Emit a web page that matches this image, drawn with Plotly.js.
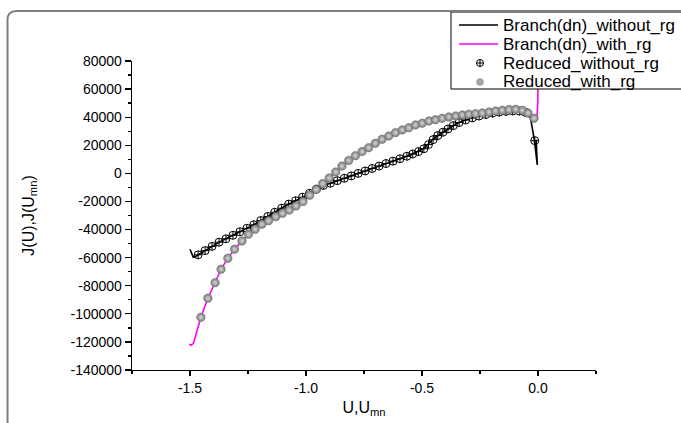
<!DOCTYPE html>
<html>
<head>
<meta charset="utf-8">
<script src="https://cdn.plot.ly/plotly-3.0.1.min.js"></script>
<style>html,body{margin:0;padding:0;background:#fff;}#chart{width:681px;height:423px;}</style>
</head>
<body>
<div id="chart"></div>
<script>
// Branch(dn)_without_rg (black line)
var branchNoRgX = [-1.500, -1.486, -1.478, -1.442, -1.370, -1.298, -1.226, -1.154, -1.082, -1.010, -0.938, -0.895, -0.809, -0.723, -0.636, -0.550, -0.492, -0.449, -0.406, -0.348, -0.291, -0.204, -0.118, -0.060, -0.032, -0.017, -0.003, -0.008];
var branchNoRgY = [-54000, -59700, -59300, -55700, -48600, -42700, -36700, -29600, -22500, -16600, -9500, -7000, -2000, 3000, 8000, 13100, 17900, 25000, 29700, 35700, 39200, 42800, 44400, 43900, 39200, 25000, 6000, 24000];

// Branch(dn)_with_rg (magenta line)
var branchRgX = [-1.503, -1.495, -1.485, -1.471, -1.453, -1.423, -1.392, -1.366, -1.337, -1.308, -1.276, -1.248, -1.219, -1.190, -1.130, -1.072, -1.013, -0.956, -0.900, -0.845, -0.787, -0.730, -0.672, -0.614, -0.557, -0.499, -0.442, -0.384, -0.326, -0.269, -0.211, -0.154, -0.096, -0.067, -0.043, -0.017, -0.004, -0.001, 0.000];
var branchRgY = [-121500, -122400, -121000, -112700, -102500, -88900, -77800, -68300, -60400, -54000, -48100, -43400, -39800, -36200, -30800, -26100, -20100, -11500, -3300, 5200, 12600, 18300, 24300, 29000, 32500, 35700, 38200, 40200, 41600, 42500, 43700, 44900, 45600, 44900, 43000, 39200, 41000, 50000, 62000];

// Reduced_without_rg (crossed open circles)
var reducedNoRgX = [-1.465, -1.435, -1.405, -1.375, -1.345, -1.315, -1.285, -1.255, -1.225, -1.195, -1.165, -1.135, -1.105, -1.075, -1.045, -1.015, -0.985, -0.955, -0.925, -0.895, -0.865, -0.835, -0.805, -0.775, -0.745, -0.715, -0.685, -0.655, -0.625, -0.595, -0.565, -0.540, -0.515, -0.492, -0.472, -0.452, -0.432, -0.410, -0.388, -0.365, -0.340, -0.312, -0.283, -0.254, -0.225, -0.196, -0.167, -0.138, -0.109, -0.080, -0.055, -0.014];
var reducedNoRgY = [-58000, -55000, -52000, -49000, -46600, -44100, -41600, -39100, -36600, -33600, -30700, -27700, -24800, -21900, -19500, -17000, -14200, -11200, -8600, -7000, -5200, -3500, -1800, 0, 1700, 3500, 5200, 7000, 8700, 10400, 12200, 13800, 15500, 17500, 20500, 24000, 26900, 29300, 31600, 34000, 36200, 38000, 39500, 40800, 41900, 42900, 43600, 44100, 44400, 44300, 43500, 23300];

// Reduced_with_rg (grey balls)
var reducedRgX = [-1.453, -1.423, -1.392, -1.366, -1.337, -1.308, -1.276, -1.248, -1.219, -1.190, -1.161, -1.130, -1.101, -1.072, -1.043, -1.013, -0.984, -0.956, -0.928, -0.900, -0.872, -0.845, -0.816, -0.787, -0.758, -0.730, -0.701, -0.672, -0.643, -0.614, -0.585, -0.557, -0.528, -0.499, -0.470, -0.442, -0.413, -0.384, -0.355, -0.326, -0.298, -0.269, -0.240, -0.211, -0.183, -0.154, -0.125, -0.096, -0.067, -0.043, -0.017];
var reducedRgY = [-102500, -88900, -77800, -68300, -60400, -54000, -48100, -43400, -39800, -36200, -33700, -30800, -28400, -26100, -23200, -20100, -15500, -11500, -7300, -3300, 1000, 5200, 9200, 12600, 15500, 18300, 21400, 24300, 26600, 29000, 30900, 32500, 34500, 35700, 37300, 38200, 39200, 40200, 40900, 41600, 42100, 42500, 43000, 43700, 44400, 44900, 45400, 45600, 44900, 43000, 39200];

var seriesNames = ['Branch(dn)_without_rg', 'Branch(dn)_with_rg', 'Reduced_without_rg', 'Reduced_with_rg'];

var xTickVals = [-1.5, -1.0, -0.5, 0.0];
var xTickText = ['-1.5', '-1.0', '-0.5', '0.0'];
var yTickVals = [80000, 60000, 40000, 20000, 0, -20000, -40000, -60000, -80000, -100000, -120000, -140000];
var yTickText = ['80000', '60000', '40000', '20000', '0', '-20000', '-40000', '-60000', '-80000', '-100000', '-120000', '-140000'];

var FONT = 'Liberation Sans, Arial, sans-serif';
var BLACK = '#000000', MAGENTA = '#ff00ff', BALL = '#7a7a7a', BALL_HI = '#d8d8d8';

var traces = [
  {x: branchNoRgX, y: branchNoRgY, mode: 'lines', name: seriesNames[0], showlegend: false,
   line: {color: BLACK, width: 1.6}},
  {x: branchRgX, y: branchRgY, mode: 'lines', name: seriesNames[1], showlegend: false,
   line: {color: MAGENTA, width: 1.6}},
  {x: reducedNoRgX, y: reducedNoRgY, mode: 'markers', name: seriesNames[2], showlegend: false,
   marker: {symbol: 'circle-cross-open', size: 8, color: BLACK, line: {width: 1, color: BLACK}}},
  {x: reducedRgX, y: reducedRgY, mode: 'markers', name: seriesNames[3], showlegend: false,
   marker: {symbol: 'circle', size: 8.5, color: BALL,
            gradient: {type: 'radial', color: BALL_HI},
            line: {width: 0.5, color: '#6a6a6a'}}}
];

var PL = 132, PR = 596, PT = 61, PB = 370;
function px(v) { return (v - PL) / (PR - PL); }
function py(v) { return (PB - v) / (PB - PT); }

var framePath = 'M ' + px(7.5) + ',' + py(440) +
  ' L ' + px(7.5) + ',' + py(20) +
  ' Q ' + px(7.5) + ',' + py(11) + ' ' + px(16.5) + ',' + py(11) +
  ' L ' + px(700) + ',' + py(11);

// legend geometry (pixels)
var LG = {left: 451, top: 12, bottom: 89, sx0: 459, sx1: 498, mx: 480, tx: 501, rows: [25, 44, 63, 82]};

var shapes = [
  {type: 'rect', xref: 'paper', yref: 'paper', x0: px(LG.left), x1: px(720), y0: py(LG.bottom), y1: py(LG.top),
   line: {color: BLACK, width: 1}, fillcolor: '#ffffff', layer: 'above'},
  {type: 'line', xref: 'paper', yref: 'paper', x0: px(LG.sx0), x1: px(LG.sx1), y0: py(LG.rows[0]), y1: py(LG.rows[0]),
   line: {color: BLACK, width: 1.6}, layer: 'above'},
  {type: 'line', xref: 'paper', yref: 'paper', x0: px(LG.sx0), x1: px(LG.sx1), y0: py(LG.rows[1]), y1: py(LG.rows[1]),
   line: {color: MAGENTA, width: 1.6}, layer: 'above'},
  {type: 'circle', xref: 'paper', yref: 'paper', x0: px(LG.mx - 3.5), x1: px(LG.mx + 3.5), y0: py(LG.rows[2] + 3.5), y1: py(LG.rows[2] - 3.5),
   line: {color: BLACK, width: 1}, layer: 'above'},
  {type: 'line', xref: 'paper', yref: 'paper', x0: px(LG.mx - 3.5), x1: px(LG.mx + 3.5), y0: py(LG.rows[2]), y1: py(LG.rows[2]),
   line: {color: BLACK, width: 1}, layer: 'above'},
  {type: 'line', xref: 'paper', yref: 'paper', x0: px(LG.mx), x1: px(LG.mx), y0: py(LG.rows[2] + 3.5), y1: py(LG.rows[2] - 3.5),
   line: {color: BLACK, width: 1}, layer: 'above'},
  {type: 'circle', xref: 'paper', yref: 'paper', x0: px(LG.mx - 3.5), x1: px(LG.mx + 3.5), y0: py(LG.rows[3] + 3.5), y1: py(LG.rows[3] - 3.5),
   line: {color: '#8a8a8a', width: 0.5}, fillcolor: '#a8a8a8', layer: 'above'},
  {type: 'path', xref: 'paper', yref: 'paper', path: framePath,
   line: {color: '#7f7f7f', width: 2}, layer: 'above'}
];

var annotations = seriesNames.map(function (name, i) {
  return {xref: 'paper', yref: 'paper', x: px(LG.tx), y: py(LG.rows[i]), xanchor: 'left', yanchor: 'middle',
          text: name, showarrow: false, font: {family: FONT, size: 17, color: BLACK}};
});

var layout = {
  width: 681, height: 423,
  margin: {l: PL, r: 681 - PR, t: PT, b: 423 - PB, autoexpand: false},
  paper_bgcolor: '#ffffff', plot_bgcolor: '#ffffff',
  font: {family: FONT, color: BLACK, size: 14},
  showlegend: false,
  xaxis: {
    range: [-1.75, 0.25], showgrid: false, zeroline: false,
    showline: true, linecolor: BLACK, linewidth: 1.3, mirror: false,
    ticks: 'outside', ticklen: 5, tickwidth: 1.3, tickcolor: BLACK,
    tickmode: 'array', tickvals: xTickVals, ticktext: xTickText,
    tickfont: {family: FONT, size: 14, color: BLACK},
    minor: {dtick: 0.25, tick0: 0, ticks: 'outside', ticklen: 3, tickwidth: 1.3, tickcolor: BLACK},
    title: {text: 'U,U<sub>mn</sub>', font: {family: FONT, size: 16, color: BLACK}, standoff: 6},
    automargin: false
  },
  yaxis: {
    range: [-140000, 80000], showgrid: false, zeroline: false,
    showline: true, linecolor: BLACK, linewidth: 1.3, mirror: false,
    ticks: 'outside', ticklen: 6, tickwidth: 1.3, tickcolor: BLACK,
    tickmode: 'array', tickvals: yTickVals, ticktext: yTickText,
    tickfont: {family: FONT, size: 14, color: BLACK},
    minor: {dtick: 10000, tick0: 0, ticks: 'outside', ticklen: 3, tickwidth: 1.3, tickcolor: BLACK},
    title: {text: 'J(U),J(U<sub>mn</sub>)', font: {family: FONT, size: 16, color: BLACK}, standoff: 32},
    automargin: false
  },
  shapes: shapes,
  annotations: annotations
};

Plotly.newPlot('chart', traces, layout, {displayModeBar: false, staticPlot: true});
</script>
</body>
</html>
